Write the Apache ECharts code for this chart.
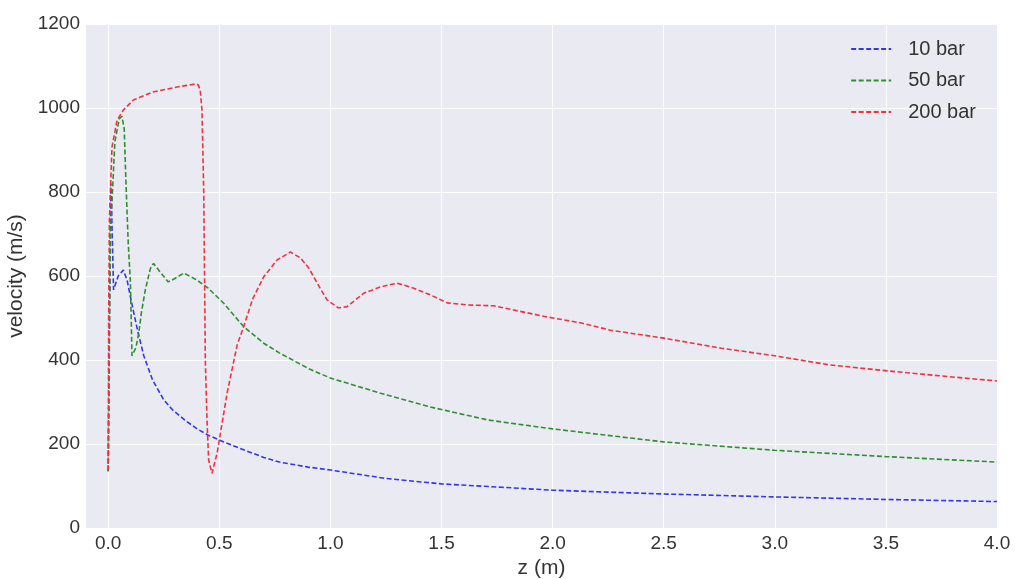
<!DOCTYPE html>
<html>
<head>
<meta charset="utf-8">
<script src="https://cdn.jsdelivr.net/npm/echarts@6/dist/echarts.min.js"></script>
<style>
  html, body { margin: 0; padding: 0; background: #fff; }
  #chart { width: 1015px; height: 579px; }
</style>
</head>
<body>
<div id="chart"></div>
<script>
   var chart = echarts.init(document.getElementById('chart'));

   var seriesNames = ['10 bar', '50 bar', '200 bar'];

   // [z (m), velocity (m/s)]
   var bar10 = [
       [0, 135], [0.005, 500], [0.012, 820], [0.018, 700], [0.024, 567], [0.045, 600],
       [0.068, 614], [0.085, 590], [0.1, 550], [0.12, 500], [0.135, 464], [0.16, 410],
       [0.2, 352], [0.25, 305], [0.29, 281], [0.35, 255], [0.4, 236], [0.45, 221],
       [0.52, 205], [0.6, 188], [0.7, 168], [0.77, 157], [0.9, 145], [1.0, 138],
       [1.25, 118], [1.5, 105], [1.77, 97], [2.0, 90], [2.5, 81], [3.0, 74],
       [3.5, 68], [4.0, 63]
   ];
   var bar50 = [
       [0, 135], [0.01, 700], [0.03, 920], [0.05, 975], [0.062, 980], [0.072, 950],
       [0.08, 820], [0.09, 680], [0.1, 583], [0.107, 410], [0.115, 408], [0.125, 430],
       [0.137, 463], [0.15, 515], [0.167, 567], [0.19, 618], [0.204, 630], [0.23, 612],
       [0.27, 586], [0.3, 594], [0.34, 607], [0.4, 590], [0.45, 571], [0.52, 535],
       [0.61, 479], [0.7, 440], [0.77, 417], [0.9, 380], [1.0, 357], [1.225, 321],
       [1.45, 288], [1.71, 257], [2.0, 236], [2.5, 205], [3.0, 185], [3.5, 170],
       [4.0, 157]
   ];
   var bar200 = [
       [0, 138], [0.002, 500], [0.005, 733], [0.017, 907], [0.04, 971], [0.068, 995],
       [0.113, 1019], [0.2, 1038], [0.31, 1050], [0.39, 1057], [0.405, 1055], [0.414, 1043],
       [0.422, 995], [0.43, 797], [0.437, 400], [0.445, 250], [0.452, 162], [0.467, 130],
       [0.49, 178], [0.535, 321], [0.58, 435], [0.61, 480], [0.65, 545], [0.7, 598],
       [0.76, 638], [0.82, 657], [0.865, 643], [0.9, 621], [0.925, 598], [0.96, 565],
       [0.985, 543], [1.036, 524], [1.075, 527], [1.15, 559], [1.225, 574], [1.3, 583],
       [1.375, 571], [1.45, 555], [1.525, 536], [1.62, 531], [1.735, 529], [1.825, 519],
       [1.98, 502], [2.13, 488], [2.26, 471], [2.5, 452], [2.76, 428], [3.0, 410],
       [3.25, 388], [3.51, 374], [3.75, 362], [4.0, 350]
   ];

   var colors = ['#3535ee', '#2e8f2e', '#ee3340'];
   var font = 'Liberation Sans, Arial, sans-serif';

   function makeSeries(name, data, color) {
       return {
           name: name,
           type: 'line',
           data: data,
           symbol: 'none',
           showSymbol: false,
           animation: false,
           lineStyle: {
               color: color,
               width: 1.6,
               type: [5, 2.5]
           },
           itemStyle: { color: color }
       };
   }

   var option = {
       backgroundColor: '#ffffff',
       textStyle: { fontFamily: font },
       grid: {
           left: 86,
           right: 18,
           top: 24,
           bottom: 51,
           outerBoundsMode: 'none',
           containLabel: false,
           show: true,
           backgroundColor: '#EAEAF2',
           borderWidth: 0
       },
       legend: {
           orient: 'vertical',
           right: 34,
           top: 34,
           itemWidth: 40,
           itemHeight: 14,
           itemGap: 11.5,
           align: 'left',
           data: seriesNames,
           itemStyle: { opacity: 0 },
           textStyle: {
               fontSize: 20,
               color: '#333',
               fontFamily: font,
               padding: [0, 0, 0, 12]
           }
       },
       xAxis: {
           type: 'value',
           min: -0.1,
           max: 4.0,
           minInterval: 0.5,
           maxInterval: 0.5,
           name: 'z (m)',
           nameLocation: 'middle',
           nameGap: 27,
           nameTextStyle: { fontSize: 21, color: '#333', fontFamily: font },
           axisLine: { show: false },
           axisTick: { show: false },
           axisLabel: {
               showMinLabel: false,
               fontSize: 19,
               color: '#333',
               margin: 6,
               formatter: function (v) { return v.toFixed(1); }
           },
           splitLine: {
               show: true,
               showMinLine: false,
               lineStyle: { color: '#ffffff', width: 1 }
           }
       },
       yAxis: {
           type: 'value',
           min: 0,
           max: 1200,
           interval: 200,
           name: 'velocity (m/s)',
           nameLocation: 'middle',
           nameGap: 47,
           nameTextStyle: { fontSize: 21, color: '#333', fontFamily: font },
           axisLine: { show: false },
           axisTick: { show: false },
           axisLabel: {
               fontSize: 19,
               color: '#333',
               margin: 6,
               formatter: function (v) { return String(v); }
           },
           splitLine: {
               show: true,
               lineStyle: { color: '#ffffff', width: 1 }
           }
       },
       series: [
           makeSeries(seriesNames[0], bar10, colors[0]),
           makeSeries(seriesNames[1], bar50, colors[1]),
           makeSeries(seriesNames[2], bar200, colors[2])
       ]
   };
   chart.setOption(option);
   window.onresize = function () {
       chart.resize();
   };
</script>
</body>
</html>
